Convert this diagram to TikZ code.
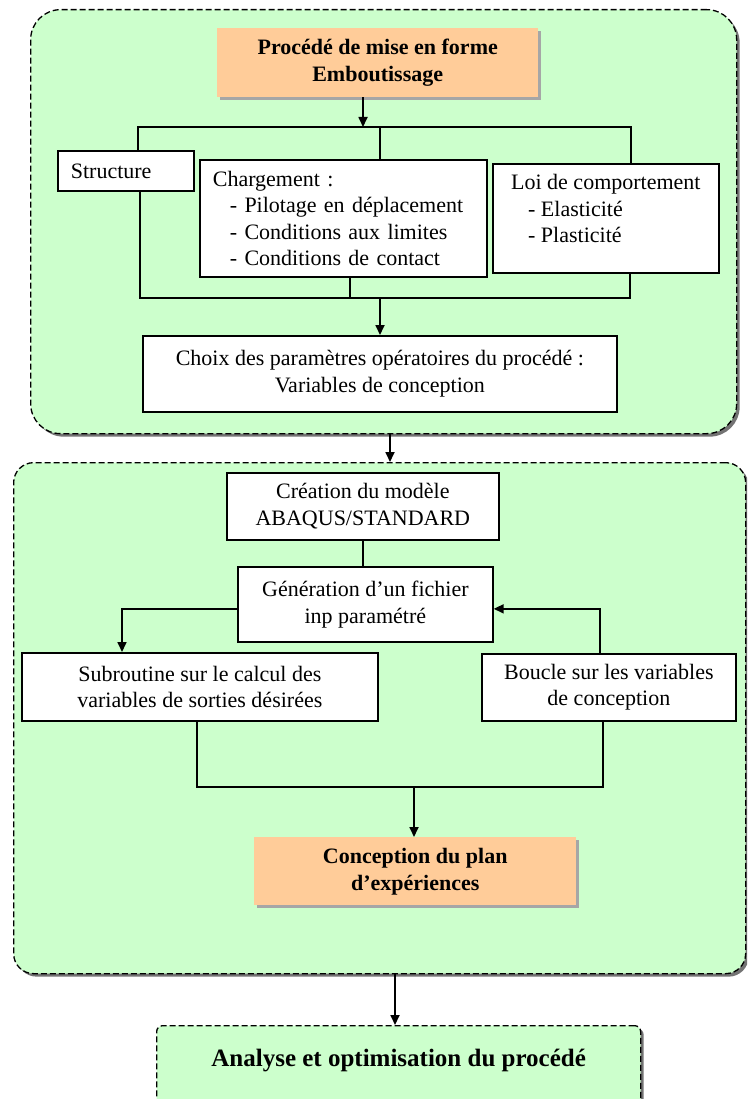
\documentclass[tikz,border=0pt]{standalone}
\usepackage{fontspec}
\setmainfont{Liberation Serif}
\usetikzlibrary{arrows.meta,shadows}
\definecolor{panelgreen}{HTML}{CCFFCC}
\definecolor{orangebox}{HTML}{FFCC99}
\begin{document}
\begin{tikzpicture}[x=1pt,y=-1pt,
  every node/.style={font=\fontsize{22}{26.5}\selectfont},
  box/.style={draw=black, line width=1.7pt, fill=white, anchor=north west, inner sep=0pt, align=center},
  obox/.style={fill=orangebox, anchor=north west, inner sep=0pt, align=center,
    font=\fontsize{22}{27}\selectfont\bfseries,
    drop shadow={shadow xshift=3pt, shadow yshift=-3pt, fill=black!35, opacity=1}},
  panel/.style={draw=black, line width=1.3pt, dash pattern=on 6pt off 3pt, fill=panelgreen, anchor=north west,
    drop shadow={shadow xshift=3pt, shadow yshift=-3pt, fill=black!55, opacity=1}},
  conn/.style={line width=1.7pt},
  arr/.style={line width=1.7pt, -{Triangle[length=10pt,width=9pt]}},
]
\useasboundingbox (0,0) rectangle (747,1099);
\clip (0,0) rectangle (747,1099);

% panels
\node[panel, rounded corners=30pt, minimum width=706pt, minimum height=424pt] (panel1) at (30,9) {};
\node[panel, rounded corners=20pt, minimum width=732pt, minimum height=511pt] (panel2) at (13,462) {};
\node[panel, rounded corners=6pt, minimum width=484pt, minimum height=90pt,
      font=\fontsize{25}{30}\selectfont\bfseries] (analyse) at (156,1025)
      {\raisebox{10pt}[\height][\depth]{Analyse et optimisation du procédé}};

% top panel boxes
\node[obox, minimum width=321pt, minimum height=69pt] (title) at (217,28) {Procédé de mise en forme\\Emboutissage};
\node[box, minimum width=136pt, minimum height=40pt, text width=110pt, align=left] (struct) at (57,150) {Structure};
\node[box, minimum width=287pt, minimum height=117pt, text width=261pt, align=left] (charge) at (199,159)
  {Chargement :\\\hspace*{17pt}- Pilotage en déplacement\\\hspace*{17pt}- Conditions aux limites\\\hspace*{17pt}- Conditions de contact};
\node[box, minimum width=226pt, minimum height=109pt] (loi) at (492,163)
  {\raisebox{7.5pt}[\height][\depth]{\begin{tabular}{@{}l@{}}Loi de comportement\\\hspace*{17pt}- Elasticité\\\hspace*{17pt}- Plasticité\end{tabular}}};
\node[box, minimum width=474pt, minimum height=76pt] (choix) at (142,335)
  {Choix des paramètres opératoires du procédé :\\Variables de conception};

% second panel boxes
\node[box, minimum width=272pt, minimum height=67pt] (creat) at (226,472) {Création du modèle\\ABAQUS/STANDARD};
\node[box, minimum width=255pt, minimum height=75pt] (gen) at (237,566) {Génération d’un fichier\\inp paramétré};
\node[box, minimum width=356pt, minimum height=68pt] (sub) at (21,652) {Subroutine sur le calcul des\\variables de sorties désirées};
\node[box, minimum width=254pt, minimum height=67pt] (boucle) at (481,653) {Boucle sur les variables\\de conception};
\node[obox, minimum width=322pt, minimum height=68pt] (concep) at (254,837) {Conception du plan\\d’expériences};

% connectors, top panel
\coordinate (hubT) at (363,127);
\coordinate (L1) at (138,127);
\coordinate (M1) at (380,127);
\coordinate (R1) at (631,127);
\draw[arr] (title.south -| hubT) -- (hubT);
\draw[conn] (struct.north -| L1) -- (L1) -- (R1) -- (loi.north -| R1);
\draw[conn] (M1) -- (charge.north -| M1);
\coordinate (L2) at (140,298);
\coordinate (M2) at (350,298);
\coordinate (A2) at (380,298);
\coordinate (R2) at (630,298);
\draw[conn] (struct.south -| L2) -- (L2) -- (R2) -- (loi.south -| R2);
\draw[conn] (charge.south -| M2) -- (M2);
\draw[arr] (A2) -- (choix.north -| A2);

% between panels
\coordinate (X1) at (390,450);
\draw[arr] (panel1.south -| X1) -- (panel2.north -| X1);

% connectors, second panel
\draw[conn] (creat.south) -- (gen.north -| creat.south);
\draw[arr] ([yshift=-4.5pt]gen.west) -| ([xshift=101pt]sub.north west);
\draw[arr] ([xshift=-9pt]boucle.north) |- ([yshift=-4.5pt]gen.east);
\coordinate (L3) at (197,787);
\coordinate (M3) at (414,787);
\coordinate (R3) at (603,787);
\draw[conn] (sub.south -| L3) -- (L3) -- (R3) -- (boucle.south -| R3);
\draw[arr] (M3) -- (concep.north -| M3);

% to analysis
\coordinate (X2) at (395,1000);
\draw[arr] (panel2.south -| X2) -- (analyse.north -| X2);
\end{tikzpicture}
\end{document}
